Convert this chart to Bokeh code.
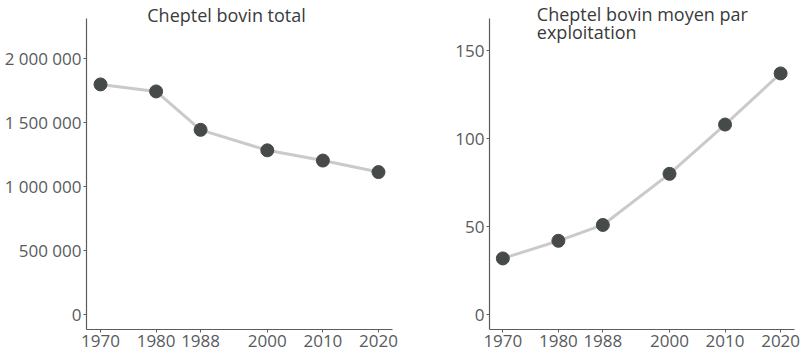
from bokeh.plotting import figure
from bokeh.layouts import row
from bokeh.models import FixedTicker, Range1d, Label, ColumnDataSource
from bokeh.embed import file_html
from bokeh.resources import INLINE

years = [1970, 1980, 1988, 2000, 2010, 2020]
cheptel_total = [1800000, 1745000, 1445000, 1285000, 1205000, 1115000]
cheptel_moyen = [32, 42, 51, 80, 108, 137]

left_ticks = [0, 500000, 1000000, 1500000, 2000000]
left_tick_labels = ["0", "500 000", "1 000 000", "1 500 000", "2 000 000"]
right_ticks = [0, 50, 100, 150]
right_tick_labels = ["0", "50", "100", "150"]

title_left = "Cheptel bovin total"
title_right = ["Cheptel bovin moyen par", "exploitation"]

FONT = "Open Sans"
AXIS_COL = "#5c5c5c"
LABEL_COL = "#575b60"
TITLE_COL = "#3a3a3a"
LINE_COL = "#cbc9c9"
DOT_COL = "#464a4a"


def make_fig(values, ticks, tick_labels, yr, ybounds, xr, width, bl, br):
    p = figure(width=width, height=353, output_backend="svg", toolbar_location=None,
               x_range=Range1d(*xr), y_range=Range1d(*yr),
               min_border_left=bl, min_border_right=br, min_border_top=0,
               min_border_bottom=24)
    p.outline_line_color = None
    p.xgrid.visible = False
    p.ygrid.visible = False
    src = ColumnDataSource(dict(x=years, y=values))
    p.line("x", "y", source=src, line_color=LINE_COL, line_width=3)
    p.scatter("x", "y", source=src, size=13, fill_color=DOT_COL, line_color=DOT_COL)
    p.xaxis.ticker = FixedTicker(ticks=years)
    p.yaxis.ticker = FixedTicker(ticks=ticks)
    p.yaxis.major_label_overrides = {t: l for t, l in zip(ticks, tick_labels)}
    p.yaxis.bounds = ybounds
    for ax in (p.xaxis, p.yaxis):
        ax.axis_line_color = AXIS_COL
        ax.axis_line_width = 1.2
        ax.major_tick_line_color = AXIS_COL
        ax.major_tick_out = 3
        ax.major_tick_in = 0
        ax.minor_tick_line_color = None
        ax.major_label_text_font = FONT
        ax.major_label_text_font_size = "17px"
        ax.major_label_text_color = LABEL_COL
        ax.major_label_standoff = 2
    return p


p1 = make_fig(cheptel_total, left_ticks, left_tick_labels, (-114800, 2455500),
              (-114800, 2312500), (1967.48, 2022.52), 400, 86, 8)
p1.add_layout(Label(x=1992.67, y=2342000, text=title_left, text_align="center",
                    text_baseline="alphabetic", text_font=FONT, text_font_size="18px",
                    text_color=TITLE_COL))

p2 = make_fig(cheptel_moyen, right_ticks, right_tick_labels, (-8.34, 178.4),
              (-8.34, 168.0), (1967.6, 2022.5), 400, 89, 6)
p2.add_layout(Label(x=1976.12, y=170.7, text=title_right[0], text_align="left",
                    text_baseline="alphabetic", text_font=FONT, text_font_size="18px",
                    text_color=TITLE_COL))
p2.add_layout(Label(x=1976.12, y=160.4, text=title_right[1], text_align="left",
                    text_baseline="alphabetic", text_font=FONT, text_font_size="18px",
                    text_color=TITLE_COL))

layout = row(p1, p2)
open("out.html", "w").write(file_html(layout, INLINE))
